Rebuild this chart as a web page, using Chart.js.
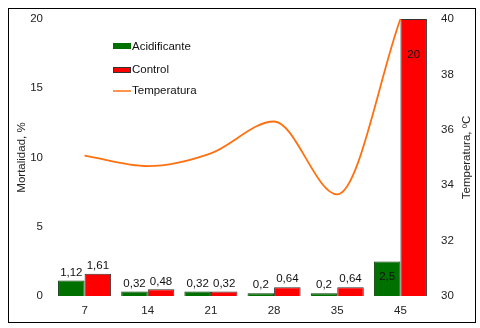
<!DOCTYPE html>
<html>
<head>
<meta charset="utf-8">
<script src="https://cdn.jsdelivr.net/npm/chart.js@4"></script>
<style>
  html, body { margin: 0; padding: 0; background: #fff; }
  #wrap { width: 480px; height: 328px; }
</style>
</head>
<body>
<div id="wrap"><canvas id="grafico" width="480" height="328"></canvas></div>
<script>
// dias y datos
const dias = ["7", "14", "21", "28", "35", "45"];
const acidificante = [1.12, 0.32, 0.32, 0.2, 0.2, 2.5];
const control = [1.61, 0.48, 0.32, 0.64, 0.64, 20];
const temperatura = [35.07, 34.69, 35.15, 36.3, 33.67, 40];
const ticksMortalidad = [0, 5, 10, 15, 20];
const ticksTemperatura = [30, 32, 34, 36, 38, 40];

const VERDE = "#007000";
const ROJO = "#ff0000";
const NARANJA = "#ff7010";
const FUENTE = "'Liberation Sans', Arial, sans-serif";

Chart.defaults.font.family = FUENTE;
Chart.defaults.font.size = 11.5;
Chart.defaults.color = "#222";

const fmt = v => String(v).replace(".", ",");

/* marco exterior y titulo del eje derecho (leido de abajo hacia arriba) */
const marco = {
    id: "marco",
    afterDraw(chart) {
        const c = chart.ctx;
        const area = chart.chartArea;
        c.save();
        c.strokeStyle = "#000";
        c.lineWidth = 1;
        c.strokeRect(8.5, 8.5, 467, 314);

        c.translate(467, (area.top + area.bottom) / 2);
        c.rotate(-Math.PI / 2);
        c.font = "11.5px " + FUENTE;
        c.fillStyle = "#222";
        c.textAlign = "center";
        c.textBaseline = "middle";
        c.fillText("Temperatura, ºC", 0, 0);
        c.restore();
    }
};

/* etiquetas de valor sobre las barras */
const etiquetas = {
    id: "etiquetas",
    afterDatasetsDraw(chart) {
        const c = chart.ctx;
        c.save();
        c.font = "11.5px " + FUENTE;
        c.fillStyle = "#111";
        c.textAlign = "center";
        c.textBaseline = "middle";
        [0, 1].forEach(di => {
            const meta = chart.getDatasetMeta(di);
            const datos = chart.data.datasets[di].data;
            meta.data.forEach((bar, i) => {
                let y = bar.y - 8;
                if (i === datos.length - 1) {
                    // ultima fecha: etiqueta dentro de la barra
                    y = bar.y + (di === 0 ? 15 : 36);
                }
                c.fillText(fmt(datos[i]), bar.x, y);
            });
        });
        c.restore();
    }
};

/* leyenda dentro del area del grafico */
const leyenda = {
    id: "leyenda",
    afterDraw(chart) {
        const c = chart.ctx;
        const x = 113;
        c.save();
        c.font = "11.5px " + FUENTE;
        c.textBaseline = "middle";

        c.fillStyle = VERDE;
        c.fillRect(x, 43, 18, 6);
        c.fillStyle = ROJO;
        c.fillRect(x, 67, 18, 6);
        c.strokeStyle = "#333";
        c.lineWidth = 1;
        c.strokeRect(x + 0.5, 67.5, 17, 5);

        c.strokeStyle = NARANJA;
        c.lineWidth = 1.5;
        c.beginPath();
        c.moveTo(x, 91);
        c.lineTo(x + 18, 91);
        c.stroke();

        c.fillStyle = "#111";
        c.fillText("Acidificante", x + 19, 46.5);
        c.fillText("Control", x + 19, 70);
        c.fillText("Temperatura", x + 19, 91);
        c.restore();
    }
};

new Chart(document.getElementById("grafico"), {
    type: "bar",
    data: {
        labels: dias,
        datasets: [
            {
                label: "Acidificante",
                data: acidificante,
                backgroundColor: VERDE,
                borderColor: "#0a3a0a",
                borderWidth: 1,
                yAxisID: "y",
                order: 1
            },
            {
                label: "Control",
                data: control,
                backgroundColor: ROJO,
                borderColor: "#333",
                borderWidth: 1,
                yAxisID: "y",
                order: 1
            },
            {
                type: "line",
                label: "Temperatura",
                data: temperatura,
                borderColor: NARANJA,
                borderWidth: 1.8,
                pointRadius: 0,
                cubicInterpolationMode: "monotone",
                fill: false,
                yAxisID: "y2",
                order: 0
            }
        ]
    },
    options: {
        responsive: false,
        animation: false,
        layout: { padding: { top: 19, left: 0, right: 0, bottom: 0 } },
        plugins: {
            legend: { display: false },
            tooltip: { enabled: false }
        },
        datasets: {
            bar: { categoryPercentage: 0.84, barPercentage: 1 }
        },
        scales: {
            x: {
                grid: { display: false, drawTicks: false },
                border: { display: false },
                ticks: { padding: 8 },
                afterFit: s => { s.height = 32; }
            },
            y: {
                position: "left",
                min: 0,
                max: 20,
                afterBuildTicks: s => { s.ticks = ticksMortalidad.map(v => ({ value: v })); },
                grid: { display: false, drawTicks: false },
                border: { display: false },
                ticks: { padding: 10 },
                title: {
                    display: true,
                    text: "Mortalidad, %",
                    padding: { top: 15, bottom: 0 },
                    font: { size: 11.5 }
                },
                afterFit: s => { s.width = 53; }
            },
            y2: {
                position: "right",
                min: 30,
                max: 40,
                afterBuildTicks: s => { s.ticks = ticksTemperatura.map(v => ({ value: v })); },
                grid: { display: false, drawTicks: false },
                border: { display: false },
                ticks: { padding: 9 },
                afterFit: s => { s.width = 48; }
            }
        }
    },
    plugins: [marco, etiquetas, leyenda]
});
</script>
</body>
</html>
